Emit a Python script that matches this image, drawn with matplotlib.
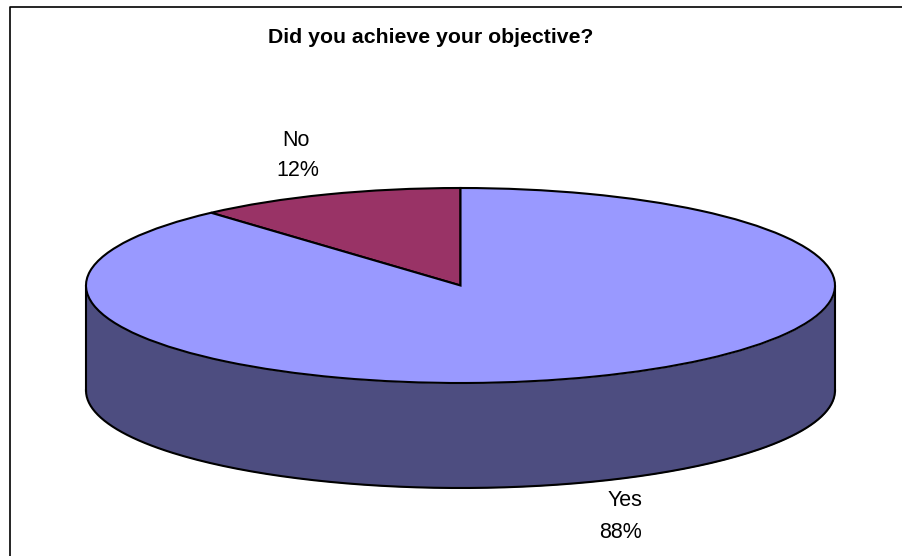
import numpy as np
import matplotlib
matplotlib.use('Agg')
import matplotlib.pyplot as plt

plt.rcParams['font.family'] = ['Liberation Sans', 'DejaVu Sans']

categories = ['No', 'Yes']
values = [11.6, 88.4]
colors = ['#993366', '#9999FF']
side_color = '#4D4D80'

W, H = 903, 556
# ellipse of the pie top, in pixels
CX, CY, RX, RY = 460.5, 285.5, 374.5, 97.5
DEPTH = 105 / RY  # wall height in pie radii
LW = 1.5

fig = plt.figure(figsize=(W / 100, H / 100), dpi=100)
fig.patch.set_facecolor('white')

# axes sized so the unit circle lands on the ellipse
ax = fig.add_axes([(CX - RX) / W, 1 - (CY + RY * (1 + DEPTH)) / H,
                   2 * RX / W, RY * (2 + DEPTH) / H])

wedges, _ = ax.pie(values, colors=colors, startangle=90, radius=1, center=(0, 0),
                   wedgeprops={'edgecolor': 'black', 'linewidth': LW})
for w in wedges:
    w.set_zorder(3)
    w.set_clip_on(False)
ax.set_aspect('auto')
ax.set_xlim(-1, 1)
ax.set_ylim(-1 - DEPTH, 1)
ax.axis('off')

# wall of the pie, front half of the rim only
t = np.linspace(np.pi, 2 * np.pi, 200)
x = np.cos(t)
y = np.sin(t)
ax.fill_between(x, y - DEPTH, y, color=side_color, lw=0, zorder=1, clip_on=False)
ax.plot(x, y - DEPTH, color='black', lw=LW, zorder=2, clip_on=False)
ax.plot([-1, -1], [0, -DEPTH], color='black', lw=LW, zorder=2, clip_on=False)
ax.plot([1, 1], [0, -DEPTH], color='black', lw=LW, zorder=2, clip_on=False)

# overlay in pixel coordinates for frame and text
ov = fig.add_axes([0, 0, 1, 1], facecolor='none')
ov.set_xlim(0, W)
ov.set_ylim(H, 0)
ov.axis('off')
ov.plot([10.5, 10.5, W], [H, 6.5, 6.5], color='black', lw=1.2)

ov.text(430.5, 37.5, 'Did you achieve your objective?', ha='center', va='center',
        fontsize=15.3, fontweight='bold', color='black')
ov.text(296, 141, categories[0], ha='center', va='center', fontsize=15.5, color='black')
ov.text(298, 171, f'{values[0]:.0f}%', ha='center', va='center', fontsize=15.5, color='black')
ov.text(642, 501, categories[1], ha='right', va='center', fontsize=15.5, color='black')
ov.text(642, 532, f'{values[1]:.0f}%', ha='right', va='center', fontsize=15.5, color='black')

fig.savefig('out.png', dpi=100, facecolor='white')
